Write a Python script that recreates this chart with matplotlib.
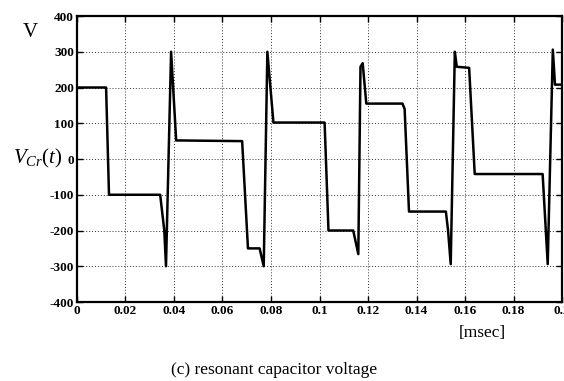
import matplotlib
matplotlib.use("Agg")
import matplotlib.pyplot as plt
from matplotlib.ticker import FuncFormatter

plt.rcParams["axes.unicode_minus"] = False
plt.rcParams["mathtext.fontset"] = "custom"
plt.rcParams["mathtext.it"] = "Liberation Serif:italic"
plt.rcParams["mathtext.rm"] = "Liberation Serif"

# waveform corners: time [msec], voltage [V]
time_ms = [0.0, 0.0120, 0.0132, 0.0343, 0.0360, 0.0367, 0.0388, 0.0409,
           0.0681, 0.0705, 0.0753, 0.0770, 0.0785, 0.0810, 0.1021, 0.1037,
           0.1139, 0.1160, 0.1169, 0.1178, 0.1193, 0.1342, 0.1351, 0.1369,
           0.1521, 0.1530, 0.1541, 0.1558, 0.1566, 0.1617, 0.1640, 0.1920,
           0.1941, 0.1962, 0.1971, 0.2000]
v_cr = [200, 200, -100, -100, -200, -300, 300, 52,
        50, -250, -250, -300, 300, 102, 102, -200,
        -200, -266, 258, 268, 155, 155, 140, -147,
        -147, -199, -294, 300, 258, 255, -42, -42,
        -294, 306, 208, 208]

x_ticks = [0, 0.02, 0.04, 0.06, 0.08, 0.1, 0.12, 0.14, 0.16, 0.18, 0.2]
y_ticks = [-400, -300, -200, -100, 0, 100, 200, 300, 400]

fig = plt.figure(figsize=(5.64, 3.81), dpi=100)
ax = fig.add_axes([0.1365, 0.2073, 0.8600, 0.7507])

ax.plot(time_ms, v_cr, color="black", linewidth=1.8)

ax.set_xlim(0, 0.2)
ax.set_ylim(-400, 400)
ax.set_xticks(x_ticks)
ax.set_yticks(y_ticks)
ax.xaxis.set_major_formatter(FuncFormatter(lambda v, p: "%g" % v))
ax.grid(True, color="black", linestyle=(0, (1, 2)), linewidth=0.7, alpha=0.8)
ax.tick_params(direction="in", length=4, width=1.0, top=True, right=True,
               labelsize=9.5, pad=2)
for lab in ax.get_xticklabels() + ax.get_yticklabels():
    lab.set_fontfamily("Liberation Serif")
    lab.set_fontweight("bold")
for sp in ax.spines.values():
    sp.set_linewidth(1.6)

fig.text(0.053, 0.915, "V", family="Liberation Serif", fontsize=15,
         ha="center", va="center")
fig.text(0.067, 0.583, r"$V_{Cr}(t)$", fontsize=15, ha="center", va="center")
fig.text(0.856, 0.126, "[msec]", family="Liberation Serif", fontsize=12.5,
         ha="center", va="center")
fig.text(0.486, 0.029, "(c) resonant capacitor voltage",
         family="Liberation Serif", fontsize=12.5, ha="center", va="center")

fig.savefig("out.png", dpi=100)
